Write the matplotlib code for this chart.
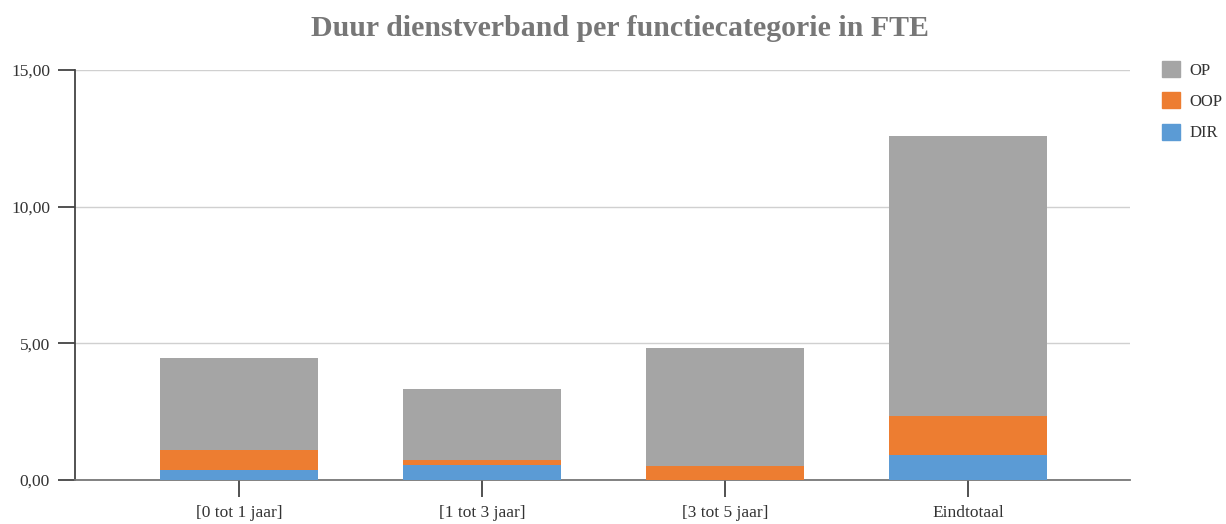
import matplotlib.pyplot as plt
from matplotlib.patches import Patch

categories = ["[0 tot 1 jaar]", "[1 tot 3 jaar]", "[3 tot 5 jaar]", "Eindtotaal"]
dir_vals = [0.35, 0.56, 0.00, 0.91]
oop_vals = [0.75, 0.17, 0.51, 1.43]
op_vals = [3.35, 2.59, 4.32, 10.26]
yticks = [0, 5, 10, 15]

c_op = "#a5a5a5"
c_oop = "#ed7d31"
c_dir = "#5b9bd5"

plt.rcParams["font.family"] = ["Liberation Serif", "DejaVu Serif"]

fig = plt.figure(figsize=(12.26, 5.24), dpi=100)
ax = fig.add_axes([75 / 1226, 44 / 524, 1055 / 1226, 410 / 524])

x = list(range(len(categories)))
w = 0.65
ax.bar(x, dir_vals, w, color=c_dir, zorder=3)
base = dir_vals
ax.bar(x, oop_vals, w, bottom=base, color=c_oop, zorder=3)
base = [a + b for a, b in zip(dir_vals, oop_vals)]
ax.bar(x, op_vals, w, bottom=base, color=c_op, zorder=3)

ax.set_xlim(-0.675, 3.667)
ax.set_ylim(0, 15)
ax.set_yticks(yticks)
ax.set_yticklabels([f"{v:.2f}".replace(".", ",") for v in yticks])
ax.set_xticks(x)
ax.set_xticklabels(categories)
ax.yaxis.grid(True, color="#d0d0d0", linewidth=1, zorder=0)
ax.tick_params(axis="y", length=12, width=1.2, color="#333333", labelsize=12.5,
               labelcolor="#333333", pad=6)
ax.tick_params(axis="x", length=12, width=1.2, color="#333333", labelsize=12.5,
               labelcolor="#333333", pad=6)
for s in ["top", "right"]:
    ax.spines[s].set_visible(False)
ax.spines["left"].set_color("#444444")
ax.spines["left"].set_linewidth(1.3)
ax.spines["bottom"].set_color("#777777")
ax.spines["bottom"].set_linewidth(1.3)

fig.text(0.506, 0.945, "Duur dienstverband per functiecategorie in FTE",
         ha="center", va="center", fontsize=21.5, fontweight="bold", color="#777777")

handles = [Patch(color=c_op, label="OP"), Patch(color=c_oop, label="OOP"),
           Patch(color=c_dir, label="DIR")]
fig.legend(handles=handles, loc="upper left", bbox_to_anchor=(1162 / 1226, 0.8836),
           frameon=False, fontsize=12, handlelength=1.1, handleheight=1.1,
           labelspacing=0.82, handletextpad=0.55, borderpad=0, borderaxespad=0,
           labelcolor="#333333")

fig.savefig("out.png", dpi=100)
